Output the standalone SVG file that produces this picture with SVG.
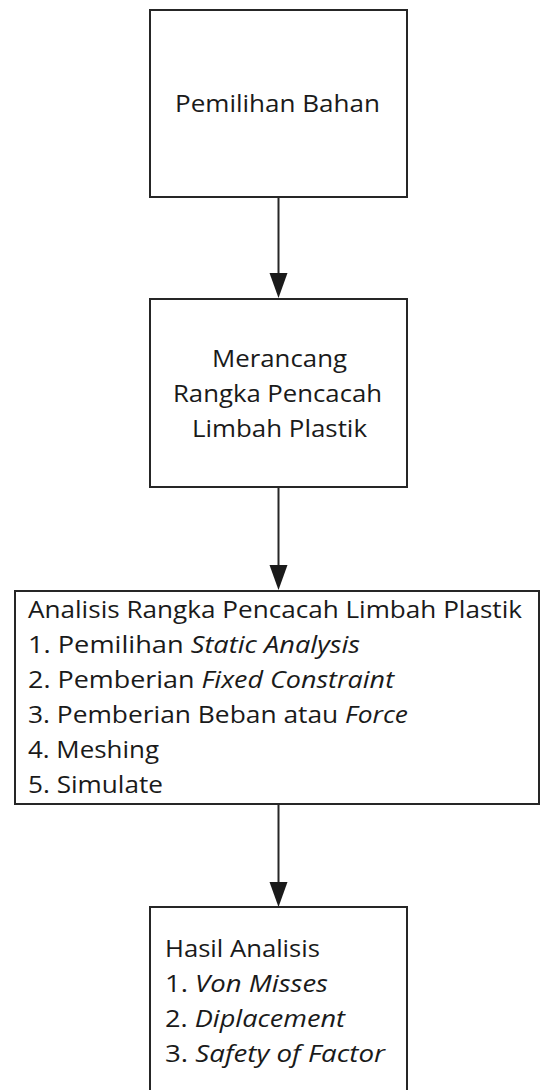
<svg xmlns="http://www.w3.org/2000/svg" width="543" height="1090" viewBox="0 0 543 1090">
<style>
.box{fill:#fff;stroke:#262626;stroke-width:2}
.t{font-family:"Open Sans","Liberation Sans",sans-serif;font-size:24px;fill:#1a1a1a}
.i{font-style:italic}
.c{stroke:#262626;stroke-width:2;fill:none}
</style>
<defs>
<marker id="ah" markerUnits="userSpaceOnUse" markerWidth="26" markerHeight="20" refX="15" refY="9" orient="auto">
<path d="M0,0 L25,9 L0,18 z" fill="#1a1a1a"/>
</marker>
</defs>
<g id="connectors">
<line class="c" x1="278.5" y1="197" x2="278.5" y2="288" marker-end="url(#ah)"/>
<line class="c" x1="278.5" y1="487" x2="278.5" y2="580" marker-end="url(#ah)"/>
<line class="c" x1="278.5" y1="804" x2="278.5" y2="897" marker-end="url(#ah)"/>
</g>
<g id="node1">
<rect class="box" x="150" y="10" width="257" height="187"/>
<text class="t" x="175" y="112" textLength="205" lengthAdjust="spacingAndGlyphs">Pemilihan Bahan</text>
</g>
<g id="node2">
<rect class="box" x="150" y="299" width="257" height="188"/>
<text class="t" x="212" y="367" textLength="135" lengthAdjust="spacingAndGlyphs">Merancang</text>
<text class="t" x="173" y="402" textLength="209" lengthAdjust="spacingAndGlyphs">Rangka Pencacah</text>
<text class="t" x="192" y="437" textLength="175" lengthAdjust="spacingAndGlyphs">Limbah Plastik</text>
</g>
<g id="node3">
<rect class="box" x="15" y="591" width="524" height="213"/>
<text class="t" x="28" y="618" textLength="494" lengthAdjust="spacingAndGlyphs">Analisis Rangka Pencacah Limbah Plastik</text>
<text class="t" x="28" y="653" textLength="332" lengthAdjust="spacingAndGlyphs">1. Pemilihan <tspan class="i">Static Analysis</tspan></text>
<text class="t" x="28" y="688" textLength="366" lengthAdjust="spacingAndGlyphs">2. Pemberian <tspan class="i">Fixed Constraint</tspan></text>
<text class="t" x="28" y="723" textLength="380" lengthAdjust="spacingAndGlyphs">3. Pemberian Beban atau <tspan class="i">Force</tspan></text>
<text class="t" x="28" y="758" textLength="131" lengthAdjust="spacingAndGlyphs">4. Meshing</text>
<text class="t" x="28" y="793" textLength="135" lengthAdjust="spacingAndGlyphs">5. Simulate</text>
</g>
<g id="node4">
<rect class="box" x="150" y="907" width="257" height="200"/>
<text class="t" x="165" y="957" textLength="155" lengthAdjust="spacingAndGlyphs">Hasil Analisis</text>
<text class="t" x="165" y="992" textLength="163" lengthAdjust="spacingAndGlyphs">1. <tspan class="i">Von Misses</tspan></text>
<text class="t" x="165" y="1027" textLength="180" lengthAdjust="spacingAndGlyphs">2. <tspan class="i">Diplacement</tspan></text>
<text class="t" x="165" y="1062" textLength="220" lengthAdjust="spacingAndGlyphs">3. <tspan class="i">Safety of Factor</tspan></text>
</g>
</svg>
